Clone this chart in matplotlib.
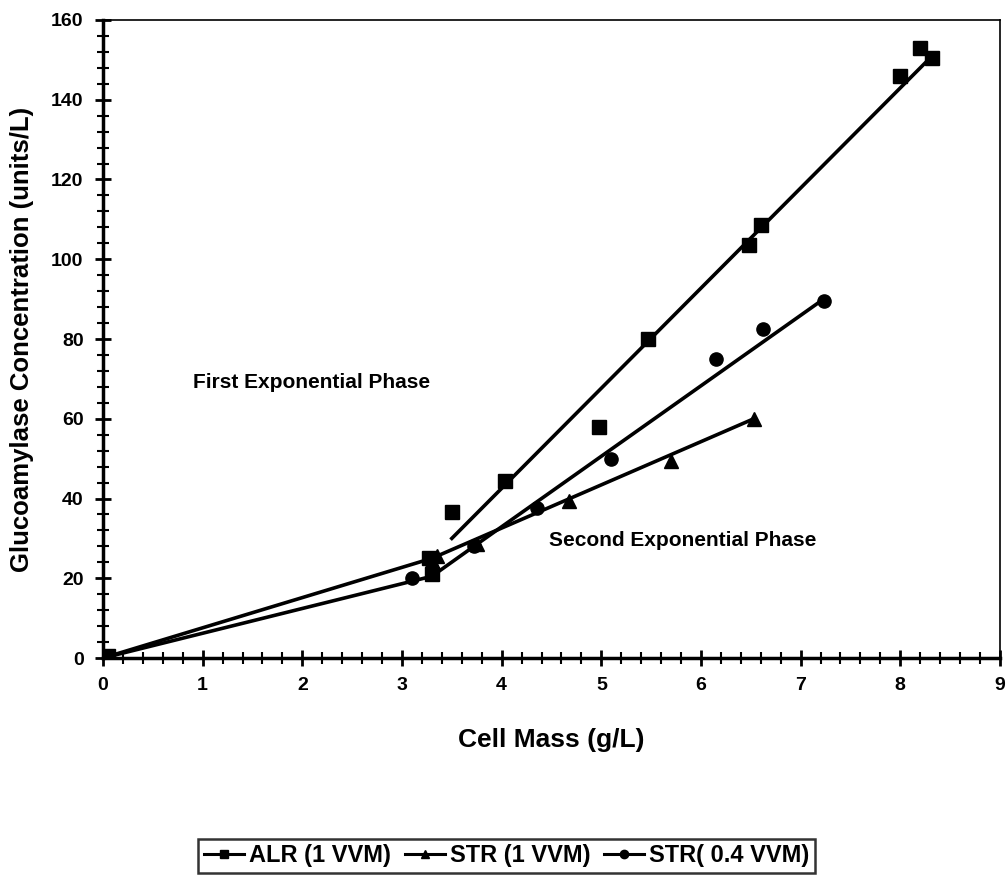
import matplotlib
matplotlib.use('Agg')
from matplotlib import pyplot as plt
from matplotlib.ticker import MultipleLocator

plt.rcParams['font.family'] = ['Liberation Sans', 'DejaVu Sans']
plt.rcParams['font.weight'] = 'bold'

# measured points
alr_x = [0, 0.05, 3.27, 3.3, 3.5, 4.03, 4.98, 5.47, 6.48, 6.6, 8.0, 8.2, 8.32]
alr_y = [0, 0.5, 25, 21, 36.5, 44.5, 58, 80, 103.5, 108.5, 146, 153, 150.5]

str1_x = [0, 0.05, 3.35, 3.75, 4.68, 5.7, 6.53]
str1_y = [0, 0.3, 25.5, 28.5, 39.5, 49.5, 60]

str04_x = [0, 0.03, 3.1, 3.3, 3.72, 4.35, 5.1, 6.15, 6.62, 7.23]
str04_y = [0, 0.2, 20, 22.5, 28, 37.5, 50, 75, 82.5, 89.5]

# fitted trend segments
alr_fit_x = [3.5, 8.32]
alr_fit_y = [30, 151]
str1_fit_x = [0, 3.3, 6.53]
str1_fit_y = [0, 25, 60]
str04_fit_x = [0, 3.3, 3.75, 7.23]
str04_fit_y = [0, 20.5, 28.5, 90]

labels = ['ALR (1 VVM)', 'STR (1 VVM)', 'STR( 0.4 VVM)']

fig = plt.figure(figsize=(10.07, 8.77), dpi=100)
ax = fig.add_axes([0.1023, 0.2497, 0.8907, 0.7275])

ax.plot(alr_fit_x, alr_fit_y, color='black', lw=2.6)
ax.plot(str1_fit_x, str1_fit_y, color='black', lw=2.6)
ax.plot(str04_fit_x, str04_fit_y, color='black', lw=2.6)

ax.plot(alr_x, alr_y, 's', color='black', ms=9.5)
ax.plot(str1_x, str1_y, '^', color='black', ms=9.5)
ax.plot(str04_x, str04_y, 'o', color='black', ms=9.5)

# legend proxies
h1, = ax.plot([], [], '-s', color='black', lw=2.2, ms=6)
h2, = ax.plot([], [], '-^', color='black', lw=2.2, ms=6)
h3, = ax.plot([], [], '-o', color='black', lw=2.2, ms=6)
leg = fig.legend([h1, h2, h3], labels, loc='center', bbox_to_anchor=(0.503, 0.024),
                 ncol=3, frameon=True, fancybox=False, edgecolor='black',
                 handlelength=1.7, handletextpad=0.2, columnspacing=0.6,
                 borderpad=0.25, prop={'weight': 'bold', 'size': 17})
leg.get_frame().set_linewidth(1.8)

ax.text(0.9, 69, 'First Exponential Phase', fontsize=15, fontweight='bold', va='center')
ax.text(4.48, 29.5, 'Second Exponential Phase', fontsize=15, fontweight='bold', va='center')

ax.set_xlim(0, 9)
ax.set_ylim(0, 160)
ax.xaxis.set_major_locator(MultipleLocator(1))
ax.xaxis.set_minor_locator(MultipleLocator(0.2))
ax.yaxis.set_major_locator(MultipleLocator(20))
ax.yaxis.set_minor_locator(MultipleLocator(4))
ax.tick_params(axis='both', which='major', direction='inout', length=12, width=2,
               labelsize=14, pad=8)
ax.tick_params(axis='both', which='minor', direction='inout', length=8, width=1.5)
ax.tick_params(top=False, right=False)
for lab in ax.get_xticklabels() + ax.get_yticklabels():
    lab.set_fontweight('bold')

ax.spines['left'].set_linewidth(2.5)
ax.spines['bottom'].set_linewidth(2.5)
ax.spines['top'].set_linewidth(1.2)
ax.spines['right'].set_linewidth(1.2)

ax.set_xlabel('Cell Mass (g/L)', fontsize=19, fontweight='bold', labelpad=24)
ax.set_ylabel('Glucoamylase Concentration (units/L)', fontsize=18.5, fontweight='bold', labelpad=12)

fig.savefig('out.png', dpi=100)
